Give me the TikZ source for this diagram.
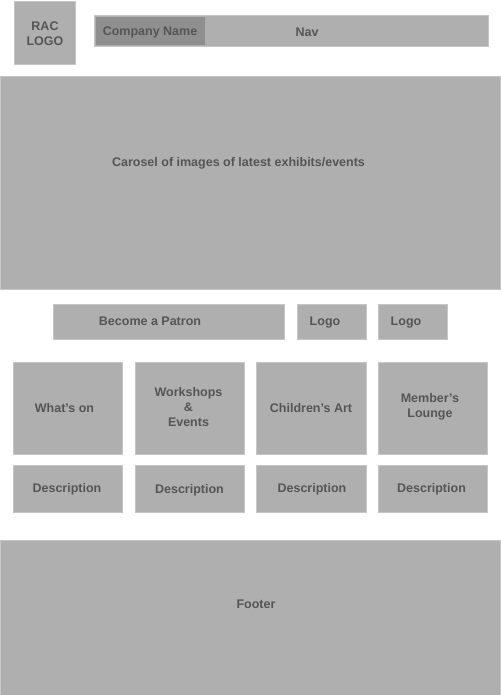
\documentclass[tikz,border=0pt]{standalone}
\usepackage{fontspec}
\setmainfont{Liberation Sans}
\definecolor{boxfill}{HTML}{AFAFAF}
\definecolor{boxedge}{HTML}{C6C6C6}
\definecolor{darkfill}{HTML}{8F8F8F}
\definecolor{txt}{HTML}{555555}
\begin{document}
\begin{tikzpicture}[x=1pt,y=-1pt,
  box/.style={fill=boxfill,draw=boxedge,line width=0.8pt,inner sep=0pt,anchor=north west},
  lbl/.style={text=txt,font=\bfseries\fontsize{12.5}{15}\selectfont,align=center,inner sep=0pt},
  one/.style={lbl,text height=9pt,text depth=0pt}]
\useasboundingbox[fill=white] (0,0) rectangle (500,695);
% header
\node[box,minimum width=61pt,minimum height=63pt] (logo) at (14,1) {};
\node[box,minimum width=394pt,minimum height=31pt] (nav) at (94,15) {};
\node[box,fill=darkfill,draw=none,minimum width=109pt,minimum height=28pt] (cname) at (96,17) {};
\node[lbl] (tlogo) at (45,34) {RAC\\LOGO};
\node[one] (tcname) at (150,31.5) {Company Name};
\node[one] (tnav) at (307,32) {Nav};
% carousel
\node[box,minimum width=500pt,minimum height=213pt] (car) at (0,76) {};
\node[one] (tcar) at (238.5,162) {Carosel of images of latest exhibits/events};
% patron row
\node[box,minimum width=231pt,minimum height=35pt] (patron) at (53,304) {};
\node[box,minimum width=69pt,minimum height=35pt] (logoa) at (297,304) {};
\node[box,minimum width=69pt,minimum height=35pt] (logob) at (378,304) {};
\node[one] (tpatron) at (150,321) {Become a Patron};
\node[one] (tlogoa) at (325,321) {Logo};
\node[one] (tlogob) at (406,321) {Logo};
% tiles
\node[box,minimum width=109pt,minimum height=92pt] (ta) at (13,362) {};
\node[box,minimum width=109pt,minimum height=92pt] (tb) at (135,362) {};
\node[box,minimum width=110pt,minimum height=92pt] (tc) at (256,362) {};
\node[box,minimum width=109pt,minimum height=92pt] (td) at (378,362) {};
\node[one] (tta) at (64.5,408) {What’s on};
\node[lbl] (ttb) at (188.5,407.5) {Workshops\\\&\\Events};
\node[one] (ttc) at (311,408) {Children’s Art};
\node[lbl] (ttd) at (430,406.5) {Member’s\\Lounge};
% descriptions
\node[box,minimum width=109pt,minimum height=47pt] (da) at (13,465) {};
\node[box,minimum width=109pt,minimum height=47pt] (db) at (135,465) {};
\node[box,minimum width=110pt,minimum height=47pt] (dc) at (256,465) {};
\node[box,minimum width=109pt,minimum height=47pt] (dd) at (378,465) {};
\node[one] (tda) at (67,488) {Description};
\node[one] (tdb) at (189.5,489) {Description};
\node[one] (tdc) at (312,488) {Description};
\node[one] (tdd) at (431.5,487.5) {Description};
% footer
\node[box,minimum width=500pt,minimum height=156pt] (foot) at (0,540) {};
\node[one] (tfoot) at (256,604) {Footer};
\end{tikzpicture}
\end{document}
